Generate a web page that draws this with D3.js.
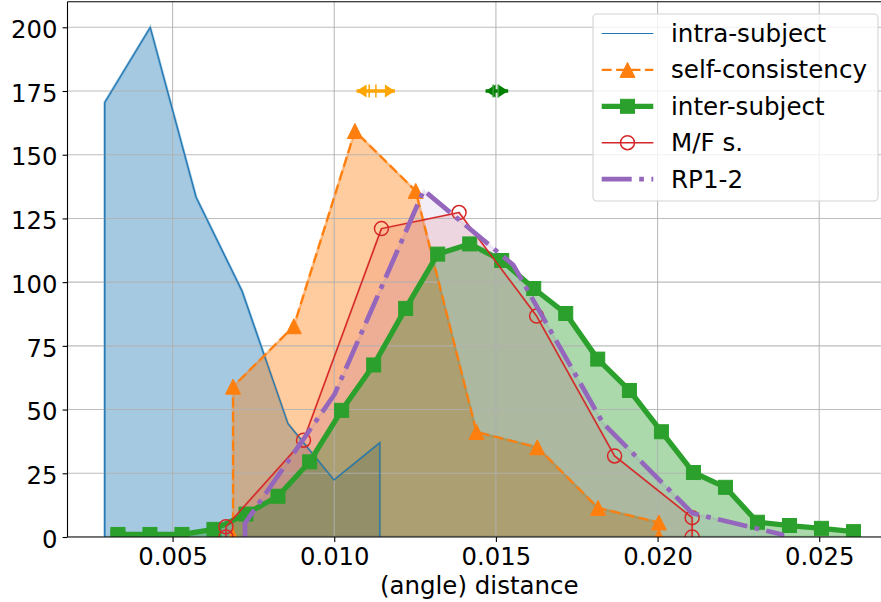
<!DOCTYPE html>
<html>
<head>
<meta charset="utf-8">
<script src="https://cdn.jsdelivr.net/npm/d3@7"></script>
<style>
  body { margin: 0; background: #fff; }
  svg { display: block; }
  text { font-family: "DejaVu Sans", sans-serif; fill: #000; }
</style>
</head>
<body>
<svg id="chart" width="881" height="602"></svg>
<script>
// ---- data: histogram counts of (angle) distances per comparison ----
const intraX = [0.00290, 0.00431, 0.00573, 0.00715, 0.00857, 0.00999, 0.01141];
const intraY = [170.5, 200, 133.3, 96.5, 44.5, 22.4, 37];

const selfX = [0.00687, 0.00875, 0.01064, 0.01252, 0.01440, 0.01628, 0.01816, 0.02004];
const selfY = [59, 82.7, 159.3, 135.8, 41.2, 35.2, 11.4, 5.7];

const interX = [0.00331, 0.00430, 0.00529, 0.00628, 0.00727, 0.00826, 0.00924, 0.01023,
                0.01122, 0.01221, 0.01320, 0.01419, 0.01518, 0.01617, 0.01716, 0.01815,
                0.01913, 0.02012, 0.02111, 0.02210, 0.02309, 0.02408, 0.02507, 0.02606];
const interY = [1, 1, 1, 3, 9, 16, 29.5, 49.7, 67.5, 89.7, 111, 115,
                108.5, 97.5, 87.7, 69.8, 57.5, 41.3, 25.3, 19.5, 5.8, 4.5, 3.4, 2.1];

const mfX = [0.00665, 0.00905, 0.01146, 0.01386, 0.01626, 0.01867, 0.02107];
const mfY = [4, 38, 121, 127.3, 86.7, 31.8, 7.6];

const rpX = [0.00724, 0.01001, 0.01277, 0.01554, 0.01831, 0.02108, 0.02385];
const rpY = [5.4, 56, 136, 106.7, 44.7, 9.3, 1];

// spread indicators drawn at the top (range ends and inner marks)
const spreadY = 175;
const selfSpread  = { lo: 0.010691, hi: 0.011876, marks: [0.011081, 0.011288] };
const interSpread = { lo: 0.014681, hi: 0.015380, marks: [0.014916, 0.015071] };

const xTicks = [0.005, 0.010, 0.015, 0.020, 0.025];
const yTicks = [0, 25, 50, 75, 100, 125, 150, 175, 200];
const xLabel = "(angle) distance";
const seriesNames = ["intra-subject", "self-consistency", "inter-subject", "M/F s.", "RP1-2"];

// ---- layout ----
const svg = d3.select("#chart");
const plot = { left: 67.5, right: 891, top: 1.8, bottom: 537 };
const x = d3.scaleLinear().domain([0.00175, 0.02722]).range([plot.left, plot.right]);
const y = d3.scaleLinear().domain([0, 210]).range([plot.bottom, plot.top]);

svg.append("defs").append("clipPath").attr("id", "plotClip")
  .append("rect")
  .attr("x", plot.left).attr("y", plot.top)
  .attr("width", plot.right - plot.left).attr("height", plot.bottom - plot.top);

// each histogram is closed down to zero at its first and last bin
const padZero = (xs, ys) => [[xs[0], 0], ...xs.map((v, i) => [v, ys[i]]), [xs[xs.length - 1], 0]];

const series = [
  { name: seriesNames[0], pts: padZero(intraX, intraY), color: "#1f77b4", fillAlpha: 0.4,
    lw: 1.2, dash: null, marker: null },
  { name: seriesNames[1], pts: padZero(selfX, selfY), color: "#ff7f0e", fillAlpha: 0.4,
    lw: 2.2, dash: "10,4.4", marker: "triangle" },
  { name: seriesNames[2], pts: padZero(interX, interY), color: "#2ca02c", fillAlpha: 0.4,
    lw: 5.3, dash: null, marker: "square" },
  { name: seriesNames[3], pts: padZero(mfX, mfY), color: "#d62728", fillAlpha: 0.12,
    lw: 1.5, dash: null, marker: "circle" },
  { name: seriesNames[4], pts: padZero(rpX, rpY), color: "#9467bd", fillAlpha: 0.12,
    lw: 4.7, dash: "30,7.5,4.7,7.5", marker: null }
];

const line = d3.line().x(d => x(d[0])).y(d => y(d[1]));

// ---- filled areas ----
const gFill = svg.append("g").attr("clip-path", "url(#plotClip)");
series.forEach(s => {
  gFill.append("path")
    .attr("d", line(s.pts) + "Z")
    .attr("fill", s.color).attr("fill-opacity", s.fillAlpha)
    .attr("stroke", s.color).attr("stroke-opacity", s.fillAlpha)
    .attr("stroke-width", 2.6).attr("stroke-linejoin", "miter");
});

// ---- grid ----
const gGrid = svg.append("g").attr("clip-path", "url(#plotClip)")
  .attr("stroke", "#b0b0b0").attr("stroke-width", 1.1).attr("stroke-opacity", 0.85);
gGrid.selectAll("line.vx").data(xTicks).join("line")
  .attr("x1", d => x(d)).attr("x2", d => x(d))
  .attr("y1", plot.top).attr("y2", plot.bottom);
gGrid.selectAll("line.hy").data(yTicks).join("line")
  .attr("x1", plot.left).attr("x2", plot.right)
  .attr("y1", d => y(d)).attr("y2", d => y(d));

// ---- marker shapes ----
function drawMarker(g, type, cx, cy, color) {
  if (type === "triangle") {
    g.append("path")
      .attr("d", `M${cx},${cy - 7.5}L${cx + 7.5},${cy + 7.5}L${cx - 7.5},${cy + 7.5}Z`)
      .attr("fill", color).attr("stroke", color).attr("stroke-width", 1);
  } else if (type === "square") {
    g.append("rect")
      .attr("x", cx - 7).attr("y", cy - 7).attr("width", 14).attr("height", 14)
      .attr("fill", color).attr("stroke", color).attr("stroke-width", 1);
  } else if (type === "circle") {
    g.append("circle")
      .attr("cx", cx).attr("cy", cy).attr("r", 7)
      .attr("fill", "none").attr("stroke", color).attr("stroke-width", 1.5);
  }
}

// ---- lines and markers ----
const gLines = svg.append("g").attr("clip-path", "url(#plotClip)");
series.forEach(s => {
  const g = gLines.append("g");
  g.append("path")
    .attr("d", line(s.pts))
    .attr("fill", "none").attr("stroke", s.color).attr("stroke-width", s.lw)
    .attr("stroke-linejoin", "round")
    .attr("stroke-dasharray", s.dash);
  if (s.marker) {
    s.pts.forEach(p => drawMarker(g, s.marker, x(p[0]), y(p[1]), s.color));
  }
});

// ---- spread indicators ----
function drawSpread(sp, color, markColor) {
  const g = svg.append("g").attr("clip-path", "url(#plotClip)");
  const cy = y(spreadY);
  const x0 = x(sp.lo), x1 = x(sp.hi);
  const hl = 10, hw = 6.5;
  g.append("line").attr("x1", x0).attr("x2", x1).attr("y1", cy).attr("y2", cy)
    .attr("stroke", color).attr("stroke-width", 3.5);
  g.append("path").attr("d", `M${x0},${cy}L${x0 + hl},${cy - hw}L${x0 + hl},${cy + hw}Z`)
    .attr("fill", color);
  g.append("path").attr("d", `M${x1},${cy}L${x1 - hl},${cy - hw}L${x1 - hl},${cy + hw}Z`)
    .attr("fill", color);
  g.selectAll("line.mk").data(sp.marks).join("line")
    .attr("x1", d => x(d)).attr("x2", d => x(d))
    .attr("y1", cy - 6.5).attr("y2", cy + 6.5)
    .attr("stroke", markColor).attr("stroke-width", 1.5);
}
drawSpread(selfSpread, "#ffa500", "#ffa500");
drawSpread(interSpread, "#008000", "#3c9c3c");

// ---- axes ----
const xAxis = d3.axisBottom(x).tickValues(xTicks).tickFormat(d3.format(".3f"))
  .tickSize(4.9).tickPadding(6);
const gx = svg.append("g").attr("transform", `translate(0,${plot.bottom})`).call(xAxis);
gx.select(".domain").remove();
gx.selectAll("line").attr("stroke", "#000").attr("stroke-width", 1.1);
gx.selectAll("text").attr("font-size", 24.3).attr("font-family", "DejaVu Sans, sans-serif");

const yAxis = d3.axisLeft(y).tickValues(yTicks).tickFormat(d3.format("d"))
  .tickSize(4.9).tickPadding(5.1);
const gy = svg.append("g").attr("transform", `translate(${plot.left},0)`).call(yAxis);
gy.select(".domain").remove();
gy.selectAll("line").attr("stroke", "#000").attr("stroke-width", 1.1);
gy.selectAll("text").attr("font-size", 24.3).attr("dy", "0.42em")
  .attr("font-family", "DejaVu Sans, sans-serif");

// spines
const spines = svg.append("g").attr("stroke", "#000").attr("stroke-width", 1.1);
spines.append("line").attr("x1", plot.left).attr("x2", plot.left).attr("y1", plot.top).attr("y2", plot.bottom);
spines.append("line").attr("x1", plot.left).attr("x2", plot.right).attr("y1", plot.bottom).attr("y2", plot.bottom);
spines.append("line").attr("x1", plot.left).attr("x2", plot.right).attr("y1", plot.top).attr("y2", plot.top);

svg.append("text")
  .attr("x", (plot.left + plot.right) / 2).attr("y", 593.5)
  .attr("text-anchor", "middle").attr("font-size", 24.5)
  .text(xLabel);

// ---- legend ----
const leg = svg.append("g");
leg.append("rect")
  .attr("x", 593).attr("y", 14).attr("width", 285).attr("height", 187)
  .attr("rx", 4).attr("ry", 4)
  .attr("fill", "#fff").attr("fill-opacity", 0.8)
  .attr("stroke", "#d3d3d3").attr("stroke-width", 1.1);

series.forEach((s, i) => {
  const cy = 33.5 + i * 36.4;
  const g = leg.append("g");
  g.append("line").attr("x1", 601.7).attr("x2", 653.3).attr("y1", cy).attr("y2", cy)
    .attr("stroke", s.color).attr("stroke-width", s.lw)
    .attr("stroke-dasharray", s.dash);
  if (s.marker) drawMarker(g, s.marker, 627.5, cy, s.color);
  g.append("text").attr("x", 671).attr("y", cy + 8.5)
    .attr("font-size", 24.6).text(s.name);
});
</script>
</body>
</html>
